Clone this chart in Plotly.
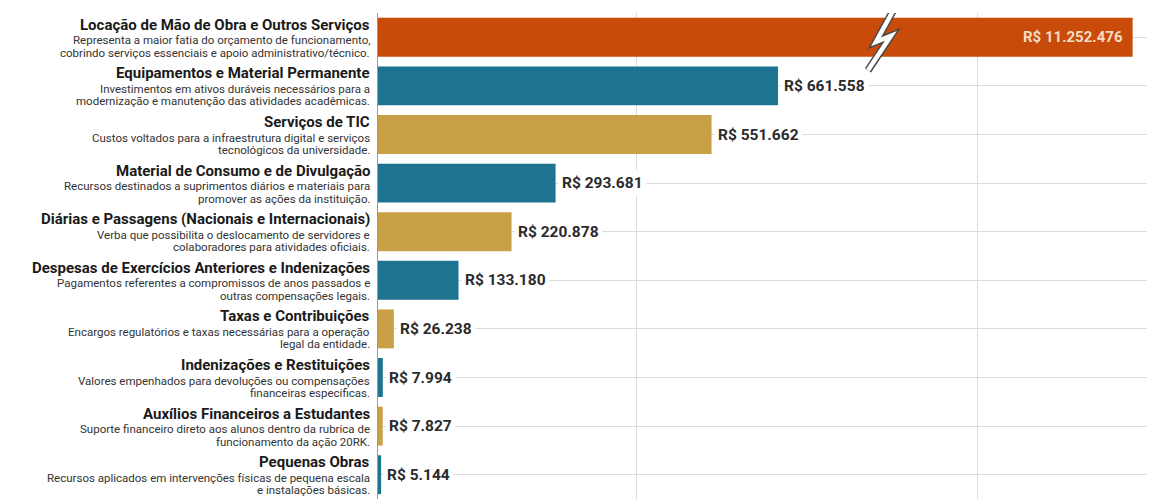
import plotly.graph_objects as go

# ─── Data ──────────────────────────────────────────────────────────────────────

categories = [
    "Locação de Mão de Obra e Outros Serviços",
    "Equipamentos e Material Permanente",
    "Serviços de TIC",
    "Material de Consumo e de Divulgação",
    "Diárias e Passagens (Nacionais e Internacionais)",
    "Despesas de Exercícios Anteriores e Indenizações",
    "Taxas e Contribuições",
    "Indenizações e Restituições",
    "Auxílios Financeiros a Estudantes",
    "Pequenas Obras",
]

descriptions = [
    ["Representa a maior fatia do orçamento de funcionamento,",
     "cobrindo serviços essenciais e apoio administrativo/técnico."],
    ["Investimentos em ativos duráveis necessários para a",
     "modernização e manutenção das atividades acadêmicas."],
    ["Custos voltados para a infraestrutura digital e serviços",
     "tecnológicos da universidade."],
    ["Recursos destinados a suprimentos diários e materiais para",
     "promover as ações da instituição."],
    ["Verba que possibilita o deslocamento de servidores e",
     "colaboradores para atividades oficiais."],
    ["Pagamentos referentes a compromissos de anos passados e",
     "outras compensações legais."],
    ["Encargos regulatórios e taxas necessárias para a operação",
     "legal da entidade."],
    ["Valores empenhados para devoluções ou compensações",
     "financeiras específicas."],
    ["Suporte financeiro direto aos alunos dentro da rubrica de",
     "funcionamento da ação 20RK."],
    ["Recursos aplicados em intervenções físicas de pequena escala",
     "e instalações básicas."],
]

values = [11252476, 661558, 551662, 293681, 220878, 133180, 26238, 7994, 7827, 5144]

# ─── Style ─────────────────────────────────────────────────────────────────────

ORANGE, TEAL, GOLD = "#C84B0A", "#1E7391", "#C9A046"
bar_colors = [ORANGE] + [TEAL if i % 2 == 0 else GOLD for i in range(len(values) - 1)]

X_MAX = 1285000      # visible axis range
CAP = 1248000        # broken bar is drawn up to this value
FONT = "Roboto, Arial, sans-serif"


def brl(v):
    return "R$ " + f"{v:,}".replace(",", ".")


display = [min(v, CAP) for v in values]
broken = [v > CAP for v in values]

fig = go.Figure(go.Bar(
    y=categories,
    x=display,
    orientation="h",
    marker=dict(color=bar_colors, line=dict(width=0)),
    width=0.8,
    hoverinfo="skip",
))

# value labels
for cat, v, d, b in zip(categories, values, display, broken):
    if b:
        fig.add_annotation(
            x=d, y=cat, text=f"<b>{brl(v)}</b>", showarrow=False,
            xanchor="right", xshift=-8,
            font=dict(family=FONT, size=15, color="#F6DCC4"),
        )
    else:
        fig.add_annotation(
            x=d, y=cat, text=f"<b>{brl(v)}</b>", showarrow=False,
            xanchor="left", xshift=2, bgcolor="white", borderpad=3,
            font=dict(family=FONT, size=15.5, color="#2b2b2b"),
        )

# category labels: bold title plus two description lines, right-aligned
for cat, desc in zip(categories, descriptions):
    fig.add_annotation(
        x=0, xref="paper", y=cat, xanchor="right", xshift=-7, yshift=12.5,
        showarrow=False, text=f"<b>{cat}</b>", borderpad=0,
        font=dict(family=FONT, size=15, color="#1a1a1a"),
    )
    for line, shift in zip(desc, (-3, -15.5)):
        fig.add_annotation(
            x=0, xref="paper", y=cat, xanchor="right", xshift=-7, yshift=shift,
            showarrow=False, text=line, borderpad=0,
            font=dict(family=FONT, size=11.5, color="#333"),
        )

# axis-break marker on the oversized bar
px_x = X_MAX / 777.0
px_y = 1 / 48.6
bx = 497 * px_x  # break position along the x axis
zig = [(20, -30), (1, 4.5), (16, -1.5), (-7, 33)]
path = "M " + " L ".join(f"{bx + dx * px_x},{dy * px_y}" for dx, dy in zig)
fig.add_shape(type="path", path=path, xref="x", yref="y",
              line=dict(color="#4a4a4a", width=7.5))
fig.add_shape(type="path", path=path, xref="x", yref="y",
              line=dict(color="white", width=4.5))

fig.update_xaxes(
    range=[0, X_MAX], showticklabels=False, zeroline=False,
    tickvals=[428000, 992000], showgrid=True, gridcolor="#dcdcdc", gridwidth=1,
)
fig.update_yaxes(
    range=[len(categories) - 0.5, -0.5], showticklabels=False, showgrid=True,
    gridcolor="#dcdcdc", gridwidth=1, showline=True, linecolor="#9a9a9a",
    linewidth=1, ticks="",
)
fig.update_layout(
    width=1147, height=493,
    margin=dict(l=370, r=0, t=5, b=2),
    plot_bgcolor="white", paper_bgcolor="white",
    showlegend=False, bargap=0.2,
    font=dict(family=FONT),
)

fig.write_html("out.html")
